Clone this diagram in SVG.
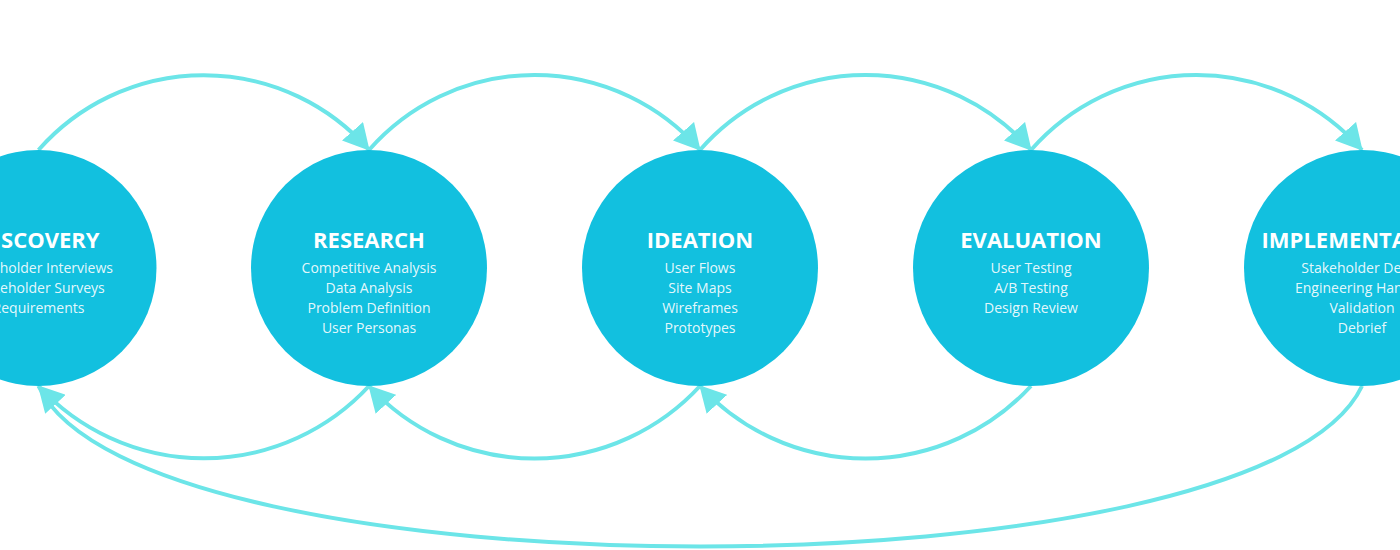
<svg xmlns="http://www.w3.org/2000/svg" width="1400" height="550" viewBox="0 0 1400 550">
  <style>
    .node { fill: #12C0DF; }
    .title { font-family: "Open Sans", "Liberation Sans", sans-serif; font-size: 22px; font-weight: 700; fill: #FFFFFF; text-anchor: middle; }
    .item { font-family: "Open Sans", "Liberation Sans", sans-serif; font-size: 14px; font-weight: 400; fill: #FFFFFF; fill-opacity: 0.9; text-anchor: middle; }
    .link { fill: none; stroke: #6CE5E8; stroke-width: 4; }
  </style>
  <defs>
    <marker id="arrow" markerUnits="userSpaceOnUse" markerWidth="26" markerHeight="28" viewBox="0 0 26 28" refX="25" refY="14" orient="auto">
      <path d="M0,0 L26,14 L0,28 Z" fill="#6CE5E8"/>
    </marker>
  </defs>
  <rect x="0" y="0" width="1400" height="550" fill="#FFFFFF"/>
  <g id="connectors">
    <path class="link" d="M38.5,150 A220,220 0 0 1 369,150" marker-end="url(#arrow)"/>
    <path class="link" d="M369,150 A220,220 0 0 1 700,150" marker-end="url(#arrow)"/>
    <path class="link" d="M700,150 A220,220 0 0 1 1031,150" marker-end="url(#arrow)"/>
    <path class="link" d="M1031,150 A220,220 0 0 1 1362,150" marker-end="url(#arrow)"/>
    <path class="link" d="M1362,386 C1262,600 138.5,600 38.5,386"/>
    <path class="link" d="M369,386 A225,225 0 0 1 38.5,386" marker-end="url(#arrow)"/>
    <path class="link" d="M700,386 A225,225 0 0 1 369,386" marker-end="url(#arrow)"/>
    <path class="link" d="M1031,386 A225,225 0 0 1 700,386" marker-end="url(#arrow)"/>
  </g>
  <g id="discovery">
    <circle class="node" cx="38.5" cy="268" r="118"/>
    <text class="title" x="38.5" y="248">DISCOVERY</text>
    <text class="item" x="38.5" y="273">Stakeholder Interviews</text>
    <text class="item" x="38.5" y="293">Stakeholder Surveys</text>
    <text class="item" x="38.5" y="313">Requirements</text>
  </g>
  <g id="research">
    <circle class="node" cx="369" cy="268" r="118"/>
    <text class="title" x="369" y="248">RESEARCH</text>
    <text class="item" x="369" y="273">Competitive Analysis</text>
    <text class="item" x="369" y="293">Data Analysis</text>
    <text class="item" x="369" y="313">Problem Definition</text>
    <text class="item" x="369" y="333">User Personas</text>
  </g>
  <g id="ideation">
    <circle class="node" cx="700" cy="268" r="118"/>
    <text class="title" x="700" y="248">IDEATION</text>
    <text class="item" x="700" y="273">User Flows</text>
    <text class="item" x="700" y="293">Site Maps</text>
    <text class="item" x="700" y="313">Wireframes</text>
    <text class="item" x="700" y="333">Prototypes</text>
  </g>
  <g id="evaluation">
    <circle class="node" cx="1031" cy="268" r="118"/>
    <text class="title" x="1031" y="248">EVALUATION</text>
    <text class="item" x="1031" y="273">User Testing</text>
    <text class="item" x="1031" y="293">A/B Testing</text>
    <text class="item" x="1031" y="313">Design Review</text>
  </g>
  <g id="implementation">
    <circle class="node" cx="1362" cy="268" r="118"/>
    <text class="title" x="1362" y="248">IMPLEMENTATION</text>
    <text class="item" x="1362" y="273">Stakeholder Demo</text>
    <text class="item" x="1362" y="293">Engineering Handoff</text>
    <text class="item" x="1362" y="313">Validation</text>
    <text class="item" x="1362" y="333">Debrief</text>
  </g>
</svg>
